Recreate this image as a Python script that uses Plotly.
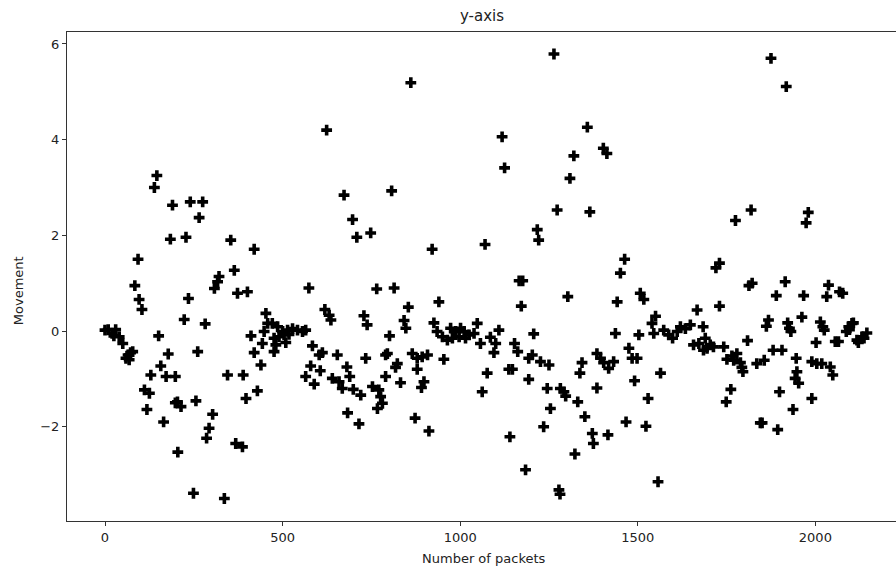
import plotly.graph_objects as go

packets = [
    0, 9, 20, 30, 25, 40, 50, 59, 65, 72, 68, 78,
    84, 93, 96, 104, 111, 118, 125, 129,
    139, 146, 151, 157, 165, 172, 178, 184, 190, 198, 198, 205,
    204, 214, 223, 228, 235, 240, 249, 256, 261, 265, 275, 282, 286, 293, 303, 308, 317, 321,
    336, 345, 354, 364, 368, 373, 387, 389, 397, 401, 411, 420, 420, 429, 439, 443, 448, 453, 458,
    471, 476, 476, 481, 486, 490, 500, 504, 509, 514, 518, 528, 542, 556, 565, 565, 574, 579, 584,
    589, 603, 606, 612, 619, 624, 631, 636, 640, 654, 659, 668, 673, 681, 683, 689, 697, 699, 709,
    715, 720, 729, 734, 738, 748, 753, 765, 767, 771, 776, 781, 790, 790,
    795, 801, 807, 814, 818, 823, 832, 842, 847, 854, 861, 865, 873, 879, 879, 891, 893, 898, 908,
    912, 921, 926, 935, 940, 950, 954, 964, 973, 978, 987, 997, 1001, 1011, 1015, 1025, 1039, 1048,
    1057, 1062, 1070, 1076, 1085,
    1095, 1100, 1109, 1118, 1125, 1137, 1140, 1147, 1153, 1162, 1166, 1176, 1172, 1184, 1193, 1193,
    1203, 1207, 1217, 1221, 1226, 1235, 1245, 1250, 1254, 1264, 1273, 1278, 1281, 1282, 1292, 1297,
    1303, 1309, 1320, 1323, 1331, 1337, 1343, 1351, 1358, 1365, 1372, 1375,
    1385, 1385, 1395, 1404, 1403, 1413, 1416, 1418, 1432, 1437, 1442, 1451, 1463, 1467, 1475, 1484,
    1491, 1498, 1503, 1507, 1517, 1523, 1529, 1540, 1545, 1550, 1557, 1564, 1573, 1587, 1598, 1611,
    1620, 1634, 1648, 1657, 1667, 1672,
    1684, 1685, 1690, 1695, 1704, 1713, 1720, 1730, 1730, 1742, 1749, 1751, 1762, 1765, 1770, 1775,
    1779, 1789, 1793, 1796, 1809, 1813, 1819, 1822, 1835, 1845, 1850, 1856, 1862, 1868, 1875, 1881,
    1890, 1894, 1899, 1906, 1915, 1918, 1922, 1927, 1931, 1937, 1943, 1946, 1953, 1962, 1967, 1974, 1980,
    1948, 1990, 1990, 2002, 2004, 2014, 2018, 2021, 2025, 2032, 2037, 2042, 2049, 2056, 2065, 2068,
    2077, 2087, 2094, 2096, 2103, 2107, 2117, 2121, 2131, 2137, 2145,
]

movement = [
    0.02, 0.03, -0.05, 0.03, -0.10, -0.12, -0.26, -0.57, -0.50, -0.45, -0.60, -0.43,
    0.95, 1.50, 0.66, 0.45, -1.23, -1.64, -1.30, -0.92,
    3.00, 3.25, -0.10, -0.73, -1.90, -0.95, -0.48, 1.92, 2.63, -0.95, -1.50, -2.53,
    -1.48, -1.58, 0.24, 1.96, 0.68, 2.70, -3.39, -1.46, -0.43, 2.37, 2.70, 0.15, -2.24, -2.03, -1.74, 0.89, 1.03, 1.14,
    -3.50, -0.92, 1.90, 1.27, -2.35, 0.79, -2.42, -0.92, -1.41, 0.82, -0.10, 1.71, -0.45, -1.25, -0.71, -0.26, -0.01, 0.37, 0.16,
    0.16, -0.15, -0.43, -0.29, 0.09, -0.12, -0.01, -0.08, -0.24, 0.02, -0.07, 0.05, 0.02, -0.01, 0.02, -0.95, 0.90, -0.73, -0.31,
    -1.11, -0.50, -0.83, -0.45, 0.45, 4.20, 0.33, 0.23, -0.99, -0.50, -1.06, -1.20, 2.84, -0.75, -1.71, -0.95, 2.33, -1.22, 1.96,
    -1.94, -1.34, 0.32, -0.57, 0.13, 2.05, -1.16, 0.88, -1.62, -1.23, -1.37, -1.51, -0.50, -0.95,
    -0.47, -0.10, 2.93, 0.90, -0.76, -0.68, -1.08, 0.22, 0.06, 0.50, 5.19, -0.47, -1.82, -0.57, -0.80, -1.18, -0.54, -1.06, -0.50,
    -2.09, 1.71, 0.17, -0.01, 0.61, -0.12, -0.59, -0.19, 0.06, -0.15, -0.01, -0.12, 0.06, -0.01, -0.15, -0.08, -0.05, 0.16,
    -0.26, -1.27, 1.81, -0.88, -0.13,
    -0.45, -0.26, 0.02, 4.06, 3.41, -0.80, -2.21, -0.80, -0.26, -0.43, 1.05, 1.05, 0.52, -2.90, -0.57, -1.01,
    -0.50, -0.06, 2.12, 1.90, -0.64, -2.00, -1.20, -0.71, -1.62, 5.79, 2.53, -3.32, -3.41, -1.20, -1.27, -1.36,
    0.72, 3.19, 3.66, -2.57, -1.48, -0.88, -0.66, -1.79, 4.26, 2.49, -2.14, -2.35,
    -0.47, -1.19, -0.57, -0.66, 3.82, 3.71, -2.17, -0.78, -0.64, -0.05, 0.61, 1.21, 1.50, -1.90, -0.36, -0.57,
    -1.04, -0.57, -0.08, 0.79, 0.66, -1.99, -1.41, 0.16, -0.05, 0.31, -3.15, -0.88, 0.02, -0.08, -0.15, -0.01,
    0.09, 0.05, 0.13, -0.29, 0.44, -0.26,
    0.09, -0.40, -0.15, -0.36, -0.29, -0.33, 1.32, 1.42, 0.52, -0.33, -1.48, -0.59, -1.22, -0.52, -0.61, 2.31,
    -0.47, -0.66, -0.76, -0.85, -0.20, 0.95, 2.53, 1.00, -0.68, -1.92, -1.92, -0.61, 0.10, 0.23, 5.70, -0.40,
    0.74, -2.06, -1.27, -0.40, 1.03, 5.11, 0.17, 0.06, -0.01, -1.64, -0.99, -0.57, -1.09, 0.29, 0.74, 2.26, 2.48,
    -0.85, -0.64, -1.41, -0.24, -0.68, 0.19, -0.68, 0.09, 0.02, 0.72, 0.96, -0.75, -0.92, -0.22, -0.22, 0.82,
    0.79, -0.01, 0.09, 0.03, 0.16, 0.17, -0.19, -0.24, -0.12, -0.15, -0.04,
]

x_ticks = [0, 500, 1000, 1500, 2000]
y_ticks = [-2, 0, 2, 4, 6]

fig = go.Figure()
fig.add_trace(go.Scatter(
    x=packets, y=movement, mode="markers",
    marker=dict(symbol="cross", size=9, color="black", line=dict(width=0)),
    showlegend=False,
))

font = "DejaVu Sans, Liberation Sans, sans-serif"
fig.update_layout(
    width=896, height=574,
    margin=dict(l=67, r=0, t=32, b=53),
    paper_bgcolor="white", plot_bgcolor="white",
    font=dict(family=font, size=13, color="#222"),
    annotations=[
        dict(text="y-axis", x=0.5, y=1, xref="paper", yref="paper",
             xanchor="center", yanchor="bottom", yshift=5, showarrow=False,
             font=dict(size=15, color="#222", family=font)),
        dict(text="Number of packets", x=0.503, y=0, xref="paper", yref="paper",
             xanchor="center", yanchor="middle", yshift=-37, showarrow=False,
             font=dict(size=13, color="#222", family=font)),
        dict(text="Movement", x=0, y=0.47, xref="paper", yref="paper",
             xanchor="center", yanchor="middle", xshift=-49, textangle=-90,
             showarrow=False, font=dict(size=13, color="#222", family=font)),
    ],
)
fig.update_xaxes(
    range=[-107, 2227], tickvals=x_ticks, ticktext=[str(v) for v in x_ticks],
    showgrid=False, zeroline=False, showline=True, linecolor="#333", linewidth=1,
    mirror=True, ticks="outside", ticklen=4, tickcolor="#333",
    tickfont=dict(size=13),
)
fig.update_yaxes(
    range=[-3.97, 6.25], tickvals=y_ticks,
    showgrid=False, zeroline=False, showline=True, linecolor="#333", linewidth=1,
    mirror=False, ticks="outside", ticklen=4, tickcolor="#333",
    tickfont=dict(size=13),
)

fig.write_html("out.html")
